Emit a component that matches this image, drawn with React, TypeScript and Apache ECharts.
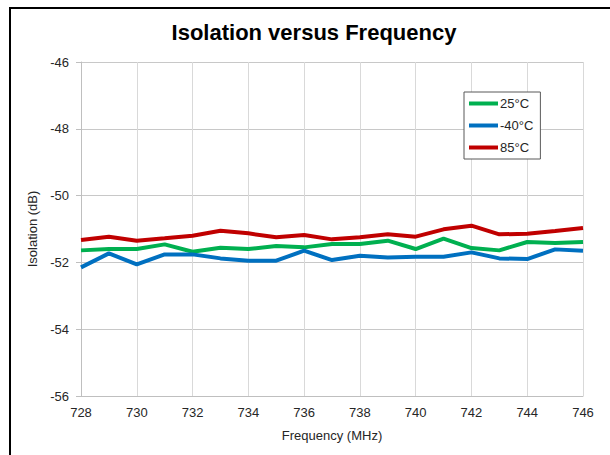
import React, { useEffect, useRef } from "react";
import * as echarts from "echarts";

const frequencies = [728, 729, 730, 731, 732, 733, 734, 735, 736, 737, 738, 739, 740, 741, 742, 743, 744, 745, 746];
const iso25 = [-51.64, -51.6, -51.6, -51.46, -51.68, -51.56, -51.6, -51.51, -51.55, -51.45, -51.45, -51.35, -51.6, -51.29, -51.57, -51.64, -51.39, -51.42, -51.39];
const isoM40 = [-52.15, -51.73, -52.06, -51.76, -51.76, -51.88, -51.95, -51.95, -51.65, -51.93, -51.8, -51.85, -51.83, -51.83, -51.7, -51.88, -51.9, -51.61, -51.65];
const iso85 = [-51.33, -51.23, -51.35, -51.28, -51.2, -51.05, -51.13, -51.25, -51.18, -51.31, -51.25, -51.16, -51.23, -51.01, -50.9, -51.16, -51.14, -51.06, -50.97];
const seriesNames = ["25°C", "-40°C", "85°C"];
const seriesColors = ["#00b050", "#0070c0", "#c00000"];

const FONT = "Liberation Sans, Arial, sans-serif";

export default function App() {
  const ref = useRef<HTMLDivElement>(null);
  useEffect(() => {
    if (!ref.current) return;
    const chart = echarts.init(ref.current, null, { renderer: "svg" });
    const all = [iso25, isoM40, iso85];
    chart.setOption({
      animation: false,
      backgroundColor: "#ffffff",
      title: {
        text: "Isolation versus Frequency",
        left: 309,
        textAlign: "center",
        top: 16,
        textStyle: { fontFamily: FONT, fontSize: 22, fontWeight: "bold", color: "#000" },
      },
      graphic: [
        {
          type: "rect",
          shape: { x: 10, y: 8, width: 700, height: 600 },
          style: { fill: "none", stroke: "#000", lineWidth: 2 },
          silent: true,
        },
      ],
      grid: { left: 81, top: 62, right: 27, bottom: 59 },
      legend: {
        orient: "vertical",
        left: 464,
        top: 92,
        data: seriesNames,
        icon: "rect",
        itemWidth: 29,
        itemHeight: 4,
        itemGap: 9,
        padding: [5, 7, 5, 5],
        backgroundColor: "#ffffff",
        borderColor: "#595959",
        borderWidth: 1,
        textStyle: { fontFamily: FONT, fontSize: 13, color: "#262626", padding: [0, 0, 0, -3] },
      },
      xAxis: {
        type: "value",
        min: 728,
        max: 746,
        interval: 2,
        name: "Frequency (MHz)",
        nameLocation: "middle",
        nameGap: 33,
        nameTextStyle: { fontFamily: FONT, fontSize: 13, color: "#262626" },
        axisLine: { show: true, lineStyle: { color: "#bfbfbf", width: 1 } },
        axisTick: { show: false },
        axisLabel: { fontFamily: FONT, fontSize: 13, color: "#262626", margin: 10 },
        splitLine: { show: true, lineStyle: { color: "#d9d9d9", width: 1 } },
      },
      yAxis: {
        type: "value",
        min: -56,
        max: -46,
        interval: 2,
        name: "Isolation (dB)",
        nameLocation: "middle",
        nameGap: 40,
        nameTextStyle: { fontFamily: FONT, fontSize: 13, color: "#262626" },
        axisLine: { show: true, lineStyle: { color: "#bfbfbf", width: 1 } },
        axisTick: { show: true, inside: false, length: 5, lineStyle: { color: "#bfbfbf" } },
        axisLabel: { fontFamily: FONT, fontSize: 13, color: "#262626", margin: 12 },
        splitLine: { show: true, lineStyle: { color: "#c8c8c8", width: 1 } },
      },
      series: all.map((vals, i) => ({
        name: seriesNames[i],
        type: "line",
        data: frequencies.map((f, j) => [f, vals[j]]),
        showSymbol: false,
        symbol: "none",
        lineStyle: { color: seriesColors[i], width: 4 },
        itemStyle: { color: seriesColors[i] },
        z: i === 2 ? 4 : 3,
      })),
    });
    return () => chart.dispose();
  }, []);
  return <div ref={ref} style={{ position: "absolute", left: 0, top: 0, width: 610, height: 455 }} />;
}
